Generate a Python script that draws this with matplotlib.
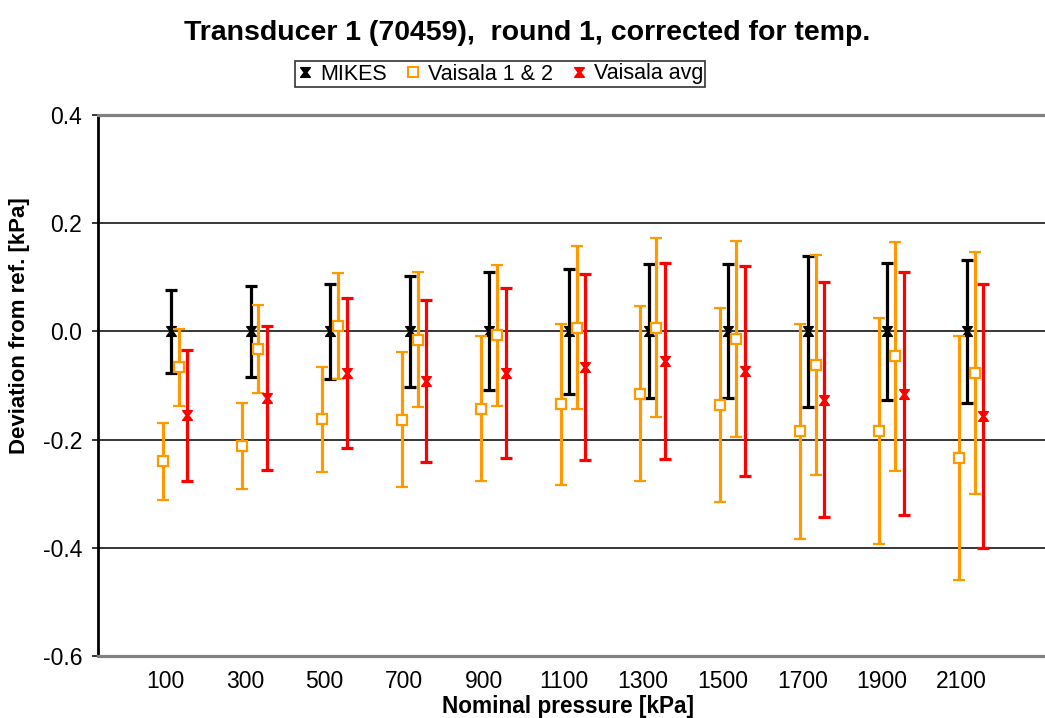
import matplotlib
matplotlib.use('Agg')
import matplotlib.pyplot as plt
from matplotlib.path import Path
from matplotlib.lines import Line2D

plt.rcParams['font.family'] = ['Liberation Sans', 'DejaVu Sans']

# nominal pressures [kPa]
pressures = [100, 300, 500, 700, 900, 1100, 1300, 1500, 1700, 1900, 2100]

# MIKES deviation and uncertainty
mikes = [0.0, 0.0, 0.0, 0.0, 0.0, 0.0, 0.0, 0.0, 0.0, 0.0, 0.0]
mikesErr = [0.076, 0.084, 0.088, 0.103, 0.109, 0.116, 0.124, 0.124, 0.139, 0.126, 0.132]

# Vaisala 1 & 2
vais1 = [-0.240, -0.212, -0.162, -0.163, -0.143, -0.135, -0.115, -0.136, -0.185, -0.184, -0.234]
vais1Err = [0.071, 0.080, 0.097, 0.125, 0.134, 0.149, 0.162, 0.179, 0.199, 0.209, 0.225]
vais2 = [-0.066, -0.032, 0.010, -0.015, -0.007, 0.007, 0.007, -0.014, -0.062, -0.046, -0.077]
vais2Err = [0.071, 0.081, 0.098, 0.125, 0.130, 0.150, 0.165, 0.181, 0.204, 0.212, 0.224]

# Vaisala average
vaisAvg = [-0.155, -0.123, -0.077, -0.092, -0.077, -0.065, -0.055, -0.074, -0.126, -0.115, -0.156]
vaisAvgErr = [0.121, 0.133, 0.139, 0.150, 0.157, 0.172, 0.181, 0.194, 0.217, 0.225, 0.244]

orange = '#FF9900'
red = '#FF0000'

# hourglass marker like the excel star
hourglass = Path([(-1, 1), (1, 1), (0.25, 0), (1, -1), (-1, -1), (-0.25, 0), (-1, 1)],
                 [Path.MOVETO, Path.LINETO, Path.LINETO, Path.LINETO, Path.LINETO, Path.LINETO, Path.CLOSEPOLY])

fig = plt.figure(figsize=(10.45, 7.18), dpi=100)
ax = fig.add_axes([98 / 1045, 1 - 656 / 718, 1 - 98 / 1045, 541 / 718])

idx = list(range(len(pressures)))
ebStyle = dict(linestyle='none', elinewidth=2.3, capsize=4, capthick=2.3)

ax.errorbar([i for i in idx], mikes, yerr=mikesErr, color='black', ecolor='black',
            marker=hourglass, markersize=7, zorder=3, **ebStyle)
ax.errorbar([i - 0.104 for i in idx], vais1, yerr=vais1Err, color=orange, ecolor=orange,
            marker='s', markersize=7.5, markerfacecolor='white', markeredgecolor=orange,
            markeredgewidth=1.6, zorder=4, **ebStyle)
ax.errorbar([i + 0.098 for i in idx], vais2, yerr=vais2Err, color=orange, ecolor=orange,
            marker='s', markersize=7.5, markerfacecolor='white', markeredgecolor=orange,
            markeredgewidth=1.6, zorder=4, **ebStyle)
ax.errorbar([i + 0.205 for i in idx], vaisAvg, yerr=vaisAvgErr, color=red, ecolor=red,
            marker=hourglass, markersize=7, zorder=5, **ebStyle)

ax.set_ylim(-0.6, 0.4)
ax.set_xlim(-0.917, 10.98)
ax.set_yticks([-0.6, -0.4, -0.2, 0.0, 0.2, 0.4])
ax.set_yticklabels(['%.1f' % v for v in [-0.6, -0.4, -0.2, 0.0, 0.2, 0.4]])
ax.set_xticks([i - 0.07 for i in idx])
ax.set_xticklabels([str(p) for p in pressures])
ax.tick_params(axis='y', direction='out', length=4.5, width=1.1, labelsize=16.5, pad=7)
ax.tick_params(axis='x', length=0, labelsize=16.5, pad=10)

for v in [-0.4, -0.2, 0.0, 0.2]:
    ax.axhline(v, color='black', linewidth=1.1, zorder=1)

ax.spines['left'].set_color('black')
ax.spines['left'].set_linewidth(2.0)
ax.spines['bottom'].set_color('#808080')
ax.spines['bottom'].set_linewidth(2.3)
ax.spines['top'].set_color('#808080')
ax.spines['top'].set_linewidth(2.3)
ax.spines['right'].set_visible(False)

fig.text(527 / 1045, 1 - 33 / 718, 'Transducer 1 (70459),  round 1, corrected for temp.',
         ha='center', va='center', fontsize=20.5, fontweight='bold')
fig.text(568 / 1045, 1 - 707 / 718, 'Nominal pressure [kPa]', ha='center', va='center',
         fontsize=16.3, fontweight='bold')
fig.text(20 / 1045, 1 - 326 / 718, 'Deviation from ref. [kPa]', ha='center', va='center',
         rotation=90, fontsize=16, fontweight='bold')

handles = [
    Line2D([], [], linestyle='none', marker=hourglass, color='black', markersize=7),
    Line2D([], [], linestyle='none', marker='s', markerfacecolor='white',
           markeredgecolor=orange, markeredgewidth=1.5, markersize=7),
    Line2D([], [], linestyle='none', marker=hourglass, color=red, markersize=7),
]
leg = fig.legend(handles, ['MIKES', 'Vaisala 1 & 2', 'Vaisala avg'], loc='center',
                 bbox_to_anchor=(500 / 1045, 1 - 74 / 718), ncol=3, fontsize=15.5,
                 frameon=True, fancybox=False, handlelength=0.8, handletextpad=0.3,
                 columnspacing=0.8, borderpad=0.1, borderaxespad=0)
leg.get_frame().set_edgecolor('black')
leg.get_frame().set_linewidth(1.2)

fig.savefig('out.png', dpi=100)
